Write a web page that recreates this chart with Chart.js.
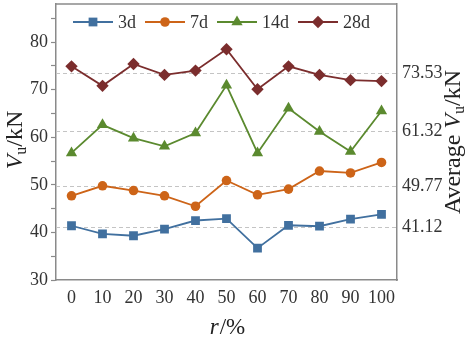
<!DOCTYPE html>
<html><head><meta charset="utf-8">
<script src="https://cdn.jsdelivr.net/npm/chart.js@4/dist/chart.umd.min.js"></script>
<style>html,body{margin:0;padding:0;background:#fff}#wrap{width:471px;height:344px}</style>
</head><body><div id="wrap"><canvas id="c" width="471" height="344"></canvas></div>
<script>
const categories = ['0','10','20','30','40','50','60','70','80','90','100'];
const series3d  = [41.4, 39.7, 39.3, 40.7, 42.5, 42.9, 36.7, 41.5, 41.3, 42.8, 43.8];
const series7d  = [47.7, 49.8, 48.8, 47.7, 45.5, 50.9, 47.9, 49.1, 52.9, 52.5, 54.7];
const series14d = [56.7, 62.6, 59.8, 58.1, 60.9, 70.9, 56.7, 66.1, 61.2, 57.0, 65.5];
const series28d = [74.9, 70.8, 75.4, 73.1, 74.0, 78.5, 70.1, 74.9, 73.1, 72.0, 71.8];
const seriesNames = ['3d','7d','14d','28d'];
const averageTicks = [41.12, 49.77, 61.32, 73.53];
const leftTicks = [30,35,40,45,50,55,60,65,70,75,80,85];

const SERIF = '"Liberation Serif", serif';
const colors = ['#41709f', '#cd6418', '#5b8a2f', '#7b2d2d'];
const styles = ['rect', 'circle', 'triangle', 'rectRot'];
const radii = [6.2, 4.8, 6.5, 6.2];
const dataArr = [series3d, series7d, series14d, series28d];

const datasets = seriesNames.map((n,i)=>({
  label: n, data: dataArr[i], borderColor: colors[i], backgroundColor: colors[i],
  pointStyle: styles[i], pointRadius: radii[i], pointHoverRadius: radii[i],
  borderWidth: 1.8, pointBorderWidth: 0, tension: 0, yAxisID: 'y'
}));

const avgLines = {
  id: 'avgLines',
  beforeDatasetsDraw(chart){
    const ctx = chart.ctx, a = chart.chartArea, s = chart.scales.y2;
    ctx.save();
    ctx.strokeStyle = '#c4c4c4'; ctx.lineWidth = 1; ctx.setLineDash([4,3]);
    averageTicks.forEach(v=>{
      const py = Math.round(s.getPixelForValue(v)) + 0.5;
      ctx.beginPath(); ctx.moveTo(a.left, py); ctx.lineTo(a.right, py); ctx.stroke();
    });
    ctx.restore();
  }
};

const overlay = {
  id: 'overlay',
  afterDraw(chart){
    const ctx = chart.ctx, a = chart.chartArea;
    ctx.save();
    ctx.strokeStyle = '#8a8a8a'; ctx.lineWidth = 1.5;
    ctx.beginPath(); ctx.moveTo(a.left, a.top); ctx.lineTo(a.right, a.top); ctx.stroke();
    // legend
    let x = 73; const y = 22;
    ctx.textBaseline = 'middle';
    datasets.forEach((d,i)=>{
      ctx.strokeStyle = d.borderColor; ctx.lineWidth = 1.8;
      ctx.beginPath(); ctx.moveTo(x, y); ctx.lineTo(x+40, y); ctx.stroke();
      ctx.fillStyle = d.backgroundColor;
      Chart.helpers.drawPoint(ctx, {pointStyle: d.pointStyle, radius: d.pointRadius, rotation: 0, borderWidth: 0}, x+20, y);
      ctx.fillStyle = '#333';
      ctx.textAlign = 'left';
      ctx.font = '18px ' + SERIF;
      ctx.fillText(d.label, x+45, y+1);
      x += 45 + ctx.measureText(d.label).width + 9;
    });
    ctx.fillStyle = '#222';
    ctx.save();
    ctx.translate(16, 140);
    ctx.rotate(-Math.PI/2);
    drawVu(ctx, 24);
    ctx.restore();
    ctx.save();
    ctx.translate(454, 142);
    ctx.rotate(-Math.PI/2);
    drawVu(ctx, 24, 'Average ');
    ctx.restore();
    ctx.textBaseline = 'middle';
    ctx.font = 'italic 23px ' + SERIF;
    const w1 = ctx.measureText('r').width;
    ctx.font = '23px ' + SERIF;
    const w2 = ctx.measureText('/%').width;
    const cx = 227;
    let sx = cx - (w1+w2)/2;
    ctx.textAlign = 'left';
    ctx.font = 'italic 23px ' + SERIF; ctx.fillText('r', sx, 328);
    ctx.font = '23px ' + SERIF; ctx.fillText('/%', sx + w1 + 1, 328);
    ctx.restore();
  }
};
function drawVu(ctx, size, prefix){
  prefix = prefix || '';
  const parts = [
    {t: prefix, f: size+'px '+SERIF, dy: 0},
    {t: 'V', f: 'italic '+size+'px '+SERIF, dy: 0},
    {t: 'u', f: Math.round(size*0.65)+'px '+SERIF, dy: 6},
    {t: '/kN', f: size+'px '+SERIF, dy: 0}
  ];
  let total = 0;
  parts.forEach(p=>{ ctx.font = p.f; p.w = ctx.measureText(p.t).width; total += p.w; });
  let x = -total/2;
  ctx.textBaseline = 'middle'; ctx.textAlign = 'left';
  parts.forEach(p=>{ ctx.font = p.f; ctx.fillText(p.t, x, p.dy); x += p.w; });
}
function noPadV(s){ s.paddingTop = 0; s.paddingBottom = 0; }

new Chart(document.getElementById('c'), {
  type: 'line',
  data: { labels: categories, datasets },
  options: {
    responsive: false, animation: false,
    layout: { autoPadding: false, padding: { top: 4, left: 0, right: 0, bottom: 0 } },
    plugins: { legend: { display: false }, tooltip: { enabled: false } },
    scales: {
      x: {
        type: 'category', offset: true,
        grid: { display: false, drawTicks: false },
        border: { display: true, color: '#8a8a8a', width: 1.5 },
        ticks: { color: '#333', font: { family: SERIF, size: 18 }, padding: 7, maxRotation: 0 },
        afterFit(s){ s.height = 64; s.paddingLeft = 0; s.paddingRight = 0; }
      },
      y: {
        position: 'left', min: 30, max: 88,
        afterBuildTicks(s){ s.ticks = leftTicks.map(v=>({value: v})); },
        grid: { drawOnChartArea: false, drawTicks: true, tickLength: 5, tickColor: '#8a8a8a', tickWidth: 1.2 },
        border: { display: true, color: '#8a8a8a', width: 1.5 },
        ticks: { color: '#333', font: { family: SERIF, size: 18 }, padding: 3,
          callback: (v)=> (v % 10 === 0 ? String(v) : '') },
        afterFit(s){ s.width = 56; noPadV(s); }
      },
      y2: {
        position: 'right', min: 30, max: 88,
        afterBuildTicks(s){ s.ticks = averageTicks.map(v=>({value: v})); },
        grid: { drawOnChartArea: false, drawTicks: false },
        border: { display: true, color: '#8a8a8a', width: 1.5 },
        ticks: { color: '#333', font: { family: SERIF, size: 18 }, padding: 5,
          callback: (v)=> v.toFixed(2) },
        afterFit(s){ s.width = 74; noPadV(s); }
      }
    }
  },
  plugins: [avgLines, overlay]
});
</script></body></html>
